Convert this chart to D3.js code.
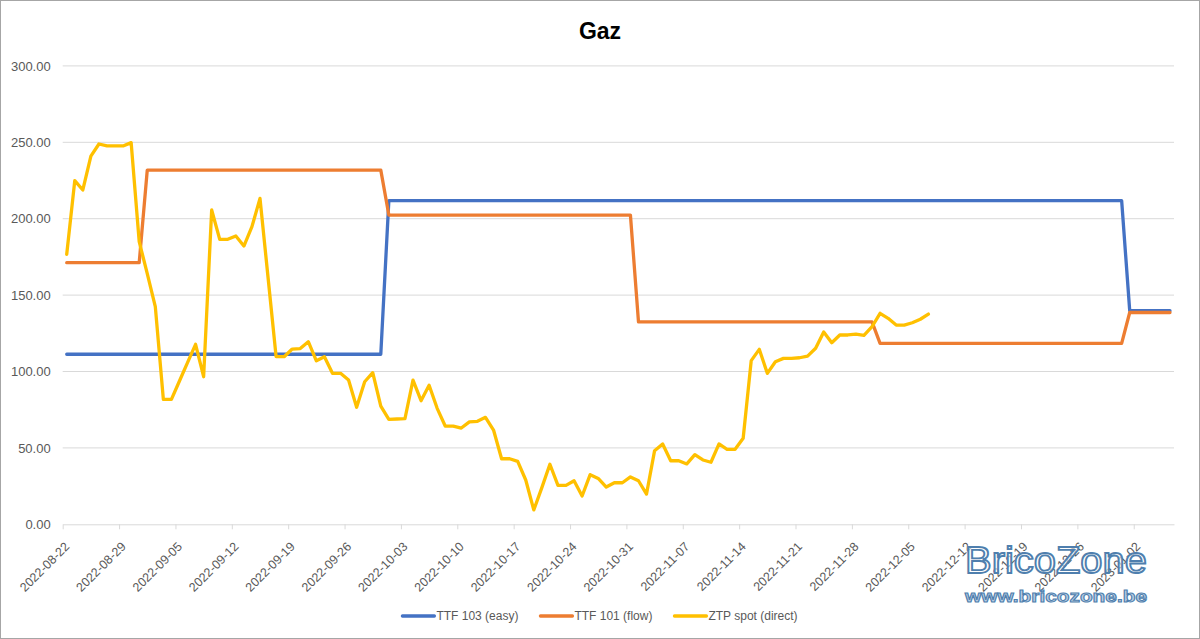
<!DOCTYPE html>
<html>
<head>
<meta charset="utf-8">
<script src="https://cdn.jsdelivr.net/npm/d3@7"></script>
<style>
  body { margin: 0; background: #fff; }
  text { font-family: "Liberation Sans", Arial, sans-serif; }
</style>
</head>
<body>
<div id="chart"></div>
<script>
const width = 1200;
const height = 639;

// ZTP spot, one value per day starting 2022-08-22
const ztpStart = "2022-08-22";
const ztpSpot = [
    176.7, 224.9, 218.8, 241.0, 248.9, 247.6, 247.6, 247.6, 249.8, 185.0,
    164.0, 142.4, 81.8, 81.8, 93.8, 105.8, 117.8, 96.6, 205.7, 186.5,
    186.5, 188.7, 182.1, 194.8, 213.3, 161.5, 109.7, 109.7, 114.7, 115.0,
    119.5, 107.0, 109.7, 98.8, 98.8, 94.4, 76.6, 93.3, 99.2, 77.4,
    68.7, 68.9, 69.1, 94.4, 80.9, 91.0, 75.9, 64.3, 64.3, 63.0,
    67.0, 67.4, 70.0, 61.7, 42.9, 42.9, 41.2, 29.0, 9.4, 24.0,
    39.3, 25.5, 25.5, 28.5, 18.5, 32.5, 30.0, 24.4, 27.2, 27.2,
    31.0, 28.5, 19.8, 48.2, 52.6, 41.6, 41.6, 39.5, 45.6, 42.1,
    40.6, 52.6, 49.1, 49.1, 56.3, 107.1, 114.5, 98.8, 106.4, 108.6,
    108.6, 109.0, 110.1, 115.2, 125.8, 118.8, 123.9, 123.9, 124.5, 123.7,
    129.3, 138.1, 134.8, 130.4, 130.4, 131.9, 134.2, 137.6
];

// TTF tariffs only change on a few days, so keep the corner points
const ttf103Dates = ["2022-08-22", "2022-09-30", "2022-10-01", "2022-12-31", "2023-01-01", "2023-01-06"];
const ttf103Values = [111.3, 111.3, 211.8, 211.8, 139.8, 139.8];

const ttf101Dates = ["2022-08-22", "2022-08-31", "2022-09-01", "2022-09-30", "2022-10-01", "2022-10-31",
    "2022-11-01", "2022-11-30", "2022-12-01", "2022-12-31", "2023-01-01", "2023-01-06"];
const ttf101Values = [171.2, 171.2, 231.8, 231.8, 202.4, 202.4, 132.5, 132.5, 118.4, 118.4, 138.6, 138.6];

const tickDates = ["2022-08-22", "2022-08-29", "2022-09-05", "2022-09-12", "2022-09-19", "2022-09-26",
    "2022-10-03", "2022-10-10", "2022-10-17", "2022-10-24", "2022-10-31", "2022-11-07", "2022-11-14",
    "2022-11-21", "2022-11-28", "2022-12-05", "2022-12-12", "2022-12-19", "2022-12-26", "2023-01-02"];
const yTicks = [0, 50, 100, 150, 200, 250, 300];

const seriesNames = ["TTF 103 (easy)", "TTF 101 (flow)", "ZTP spot (direct)"];
const colors = ["#4472C4", "#ED7D31", "#FFC000"];

const parse = d3.utcParse("%Y-%m-%d");

const svg = d3.select("#chart").append("svg")
    .attr("width", width)
    .attr("height", height);

svg.append("rect")
    .attr("x", 0.5).attr("y", 0.5)
    .attr("width", width - 1).attr("height", height - 1)
    .attr("fill", "#fff")
    .attr("stroke", "#a6a6a6");

const margin = { top: 65.9, left: 62.7, right: 26, bottom: 114.7 };

// date axis: each day is one slot, points sit in the middle of the slot
const x = d3.scaleUtc()
    .domain([parse("2022-08-22"), parse("2023-01-07")])
    .range([margin.left, width - margin.right]);

const y = d3.scaleLinear()
    .domain([0, 300])
    .range([height - margin.bottom, margin.top]);

const halfDay = 12 * 3600 * 1000;
const xm = d => x(new Date(d.getTime() + halfDay));

// title
svg.append("text")
    .attr("x", 600)
    .attr("y", 38.5)
    .attr("text-anchor", "middle")
    .attr("font-size", 23)
    .attr("font-weight", "bold")
    .attr("fill", "#000")
    .text("Gaz");

// gridlines + y labels
svg.selectAll(".grid")
    .data(yTicks.filter(d => d > 0))
    .enter()
    .append("line")
    .attr("class", "grid")
    .attr("x1", margin.left)
    .attr("x2", width - margin.right)
    .attr("y1", d => y(d))
    .attr("y2", d => y(d))
    .attr("stroke", "#d9d9d9")
    .attr("stroke-width", 1);

svg.selectAll(".ylab")
    .data(yTicks)
    .enter()
    .append("text")
    .attr("class", "ylab")
    .attr("x", 50.7)
    .attr("y", d => y(d))
    .attr("dy", "0.36em")
    .attr("text-anchor", "end")
    .attr("font-size", 13)
    .attr("fill", "#595959")
    .text(d => d3.format(".2f")(d));

// x axis
const xAxis = svg.append("g")
    .attr("transform", `translate(0,${y(0)})`)
    .call(d3.axisBottom(x)
        .tickValues(tickDates.map(parse))
        .tickSize(5)
        .tickSizeOuter(0)
        .tickFormat(d3.utcFormat("%Y-%m-%d")));

xAxis.select(".domain").attr("stroke", "#d9d9d9");
xAxis.selectAll(".tick line").attr("stroke", "#d9d9d9");
xAxis.selectAll(".tick text")
    .attr("font-size", 12.5)
    .attr("font-family", "Liberation Sans, Arial, sans-serif")
    .attr("fill", "#595959")
    .attr("text-anchor", "end")
    .attr("dy", 0)
    .attr("y", 0)
    .attr("transform", "translate(7,23) rotate(-45)");

// lines
const line = d3.line()
    .x(d => xm(d.date))
    .y(d => y(d.value));

const ttf103 = ttf103Dates.map((d, i) => ({ date: parse(d), value: ttf103Values[i] }));
const ttf101 = ttf101Dates.map((d, i) => ({ date: parse(d), value: ttf101Values[i] }));
const ztp = ztpSpot.map((v, i) => ({ date: d3.utcDay.offset(parse(ztpStart), i), value: v }));

[ttf103, ttf101, ztp].forEach((s, i) => {
    svg.append("path")
        .datum(s)
        .attr("d", line)
        .attr("fill", "none")
        .attr("stroke", colors[i])
        .attr("stroke-width", 3.3)
        .attr("stroke-linejoin", "round")
        .attr("stroke-linecap", "round");
});

// legend, centred under the plot
const legend = svg.append("g").attr("transform", "translate(0,616)");
const items = legend.selectAll(".item")
    .data(seriesNames)
    .enter()
    .append("g")
    .attr("class", "item");

items.append("line")
    .attr("x1", 0).attr("x2", 32)
    .attr("y1", 0).attr("y2", 0)
    .attr("stroke", (d, i) => colors[i])
    .attr("stroke-width", 3.3)
    .attr("stroke-linecap", "round");

items.append("text")
    .attr("x", 34)
    .attr("dy", "0.35em")
    .attr("font-size", 12)
    .attr("fill", "#595959")
    .text(d => d);

let widths = [];
items.each(function () { widths.push(this.getBBox().width); });
const gap = 22;
const total = d3.sum(widths) + gap * (widths.length - 1);
let pos = 600 - total / 2;
items.attr("transform", (d, i) => {
    const t = `translate(${pos},0)`;
    pos += widths[i] + gap;
    return t;
});

// watermark
svg.append("text")
    .attr("x", 965)
    .attr("y", 572.7)
    .attr("textLength", 182)
    .attr("lengthAdjust", "spacingAndGlyphs")
    .attr("font-size", 37)
    .attr("fill", "#fff")
    .attr("fill-opacity", 0.6)
    .attr("stroke", "#4f7fae")
    .attr("stroke-width", 1.8)
    .text("BricoZone");

svg.append("text")
    .attr("x", 965)
    .attr("y", 601.7)
    .attr("textLength", 182)
    .attr("lengthAdjust", "spacingAndGlyphs")
    .attr("font-size", 17)
    .attr("font-weight", "bold")
    .attr("fill", "#b9cde2")
    .attr("stroke", "#4f7fae")
    .attr("stroke-width", 1)
    .text("www.bricozone.be");
</script>
</body>
</html>
